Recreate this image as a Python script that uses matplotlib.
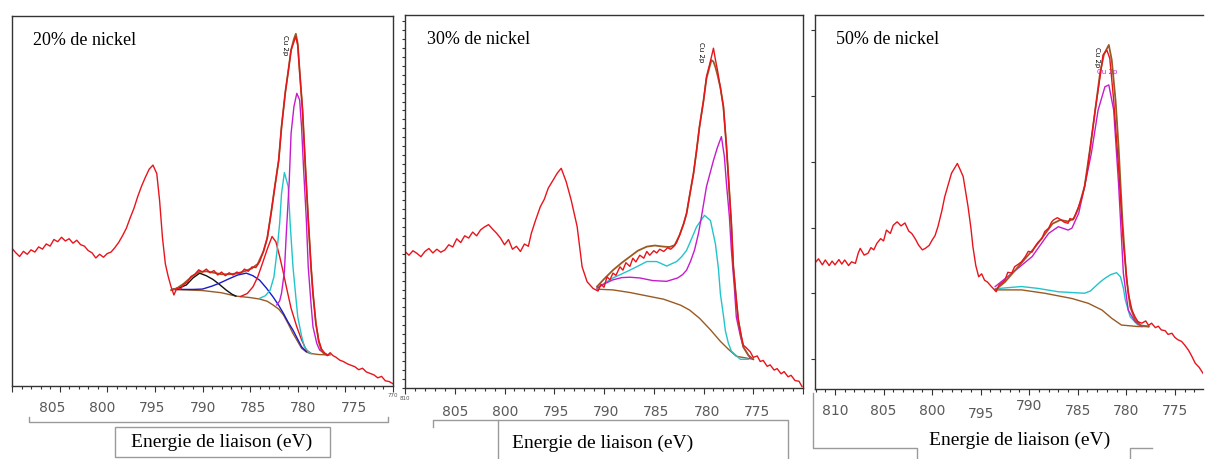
import matplotlib.pyplot as plt
from matplotlib.lines import Line2D
from matplotlib.patches import Rectangle
from matplotlib.ticker import MultipleLocator, FixedLocator

W, H = 1205, 459

RED = '#e8141c'
BROWN = '#9a5a22'
CYAN = '#22c4cc'
MAGENTA = '#c41ccc'
BLUE = '#1a1acc'
BLACK = '#111111'
GREY = '#9a9a9a'

titles = ["20% de nickel", "30% de nickel", "50% de nickel"]
xlabel = "Energie de liaison (eV)"
tick_values = [[805, 800, 795, 790, 785, 780, 775],
               [805, 800, 795, 790, 785, 780, 775],
               [810, 805, 800, 795, 790, 785, 780, 775]]

# ---------------- 20 % nickel ----------------
spec20_e = [810.0, 809.6, 809.2, 808.8, 808.4, 808.0, 807.6, 807.2, 806.8, 806.4, 806.0, 805.6, 805.2,
            804.8, 804.4, 804.0, 803.6, 803.2, 802.8, 802.4, 802.0, 801.6, 801.2, 800.8, 800.4, 800.0,
            799.6, 799.2, 798.8, 798.4, 798.0, 797.6, 797.2, 796.8, 796.4, 796.0, 795.6, 795.2, 794.8,
            794.5, 794.2, 793.9, 793.6, 793.3, 793.0, 792.7, 792.3, 792.0, 791.6, 791.2, 790.8, 790.4,
            790.0, 789.6, 789.2, 788.8, 788.4, 788.0, 787.6, 787.2, 786.8, 786.4, 786.0, 785.6, 785.2,
            784.8, 784.4, 784.0, 783.6, 783.2, 782.8, 782.4, 782.0, 781.7, 781.3, 781.0, 780.7, 780.4,
            780.2, 780.0, 779.8, 779.5, 779.2, 778.9, 778.6, 778.4, 778.1, 777.8, 777.5, 777.2, 776.9,
            776.6, 776.3, 776.0, 775.6, 775.2, 774.8, 774.4, 774.0, 773.6, 773.2, 772.8, 772.4, 772.0,
            771.6, 771.2, 770.8, 770.4, 770.0]
spec20_i = [37.2, 36.0, 35.0, 36.4, 35.6, 36.8, 36.2, 37.6, 37.0, 38.4, 37.8, 39.6, 39.0,
            40.2, 39.2, 39.8, 38.6, 39.4, 38.2, 37.8, 36.6, 36.0, 34.6, 35.6, 34.8, 35.8,
            36.2, 37.4, 38.8, 40.6, 42.6, 45.4, 48.0, 51.2, 54.0, 56.4, 58.6, 59.7, 57.4,
            50.0, 40.0, 33.0, 29.6, 26.8, 24.6, 26.4, 26.2, 27.4, 28.0, 29.6, 30.2, 31.4,
            30.8, 31.6, 30.6, 31.2, 30.0, 30.8, 29.8, 30.6, 30.0, 30.8, 30.4, 31.6, 31.0,
            32.2, 32.0, 33.6, 36.4, 40.0, 46.7, 54.0, 61.0, 70.1, 79.5, 85.0, 90.8, 93.0,
            94.4, 92.0, 85.0, 74.6, 59.3, 45.0, 32.0, 25.0, 17.0, 12.4, 10.0, 9.0, 8.2,
            9.0, 8.2, 7.8, 7.0, 6.6, 6.0, 5.6, 5.2, 4.4, 4.8, 3.8, 3.4, 3.0,
            2.2, 2.6, 1.4, 1.2, 0.6]
env20_e = [793.3, 792.7, 792.0, 791.2, 790.4, 789.6, 788.8, 788.0, 787.2, 786.4, 785.6, 784.8, 784.2,
           783.6, 783.2, 782.8, 782.4, 782.0, 781.7, 781.3, 781.0, 780.7, 780.4, 780.2, 780.0, 779.8,
           779.5, 779.2, 778.9, 778.6, 778.4, 778.1, 777.8, 777.5, 777.2, 776.8]
env20_i = [25.9, 26.4, 27.6, 29.4, 30.8, 31.0, 30.6, 30.2, 30.2, 30.4, 31.0, 31.8, 33.0,
           36.4, 40.0, 46.7, 54.0, 61.0, 70.1, 79.5, 85.0, 90.8, 93.8, 95.2, 92.5, 85.0,
           74.6, 59.3, 45.0, 32.0, 25.0, 17.0, 12.0, 9.5, 8.6, 8.4]
bg20_e = [793.1, 792.0, 790.0, 788.0, 786.5, 785.0, 784.0, 783.2, 782.6, 782.0, 781.5, 781.0,
          780.5, 780.0, 779.6, 779.1, 778.7, 777.8, 776.6]
bg20_i = [26.1, 26.0, 25.8, 25.2, 24.3, 23.9, 23.5, 22.9, 21.9, 20.8, 19.2, 16.8,
          14.2, 12.0, 10.2, 9.2, 8.8, 8.5, 8.4]
black20_e = [793.1, 792.4, 791.7, 791.0, 790.3, 789.6, 788.9, 788.2, 787.5, 786.9, 786.5]
black20_i = [26.1, 26.6, 27.3, 29.2, 30.5, 29.8, 28.8, 27.4, 25.9, 24.8, 24.3]
blue20_e = [793.1, 792.0, 791.0, 790.0, 789.0, 788.2, 787.2, 786.3, 785.4, 784.7, 784.0, 783.3,
            782.6, 782.0, 781.5, 781.0, 780.5, 780.0, 779.6, 779.1]
blue20_i = [26.1, 26.1, 26.1, 26.2, 27.0, 27.8, 29.0, 30.0, 30.5, 29.8, 28.6, 26.5,
            24.1, 21.8, 19.6, 17.2, 15.1, 12.6, 10.6, 9.3]
redc20_e = [786.0, 785.3, 784.7, 784.2, 783.7, 783.2, 782.7, 782.3, 781.9, 781.5, 781.2, 780.7,
            780.1, 779.6, 779.1, 778.6]
redc20_i = [24.2, 25.0, 26.8, 29.5, 33.2, 37.0, 40.4, 39.0, 35.0, 30.5, 26.8, 21.0,
            16.0, 12.5, 9.7, 8.8]
cyan20_e = [784.0, 783.4, 782.9, 782.5, 782.2, 781.9, 781.7, 781.4, 781.0, 780.8, 780.5, 780.2,
            780.0, 779.6, 779.3, 778.9, 778.6]
cyan20_i = [23.7, 24.4, 25.9, 29.5, 35.9, 44.0, 52.1, 57.7, 53.9, 44.0, 32.2, 24.0,
            18.7, 13.5, 10.6, 9.3, 8.8]
mag20_e = [782.2, 781.9, 781.7, 781.4, 781.2, 780.9, 780.7, 780.4, 780.1, 779.8, 779.6, 779.4,
           779.1, 778.9, 778.6, 778.4, 778.0, 777.7, 777.0]
mag20_i = [21.9, 23.0, 25.1, 31.0, 41.3, 55.0, 68.3, 75.5, 79.1, 77.3, 70.0, 59.3,
           45.0, 32.2, 22.0, 16.0, 11.5, 9.7, 8.6]

# ---------------- 30 % nickel ----------------
spec30_e = [810.0, 809.6, 809.2, 808.8, 808.4, 808.0, 807.6, 807.2, 806.8, 806.4, 806.0, 805.6, 805.2,
            804.8, 804.4, 804.0, 803.6, 803.2, 802.8, 802.4, 802.0, 801.6, 801.2, 800.8, 800.4, 800.0,
            799.6, 799.2, 798.8, 798.4, 798.0, 797.6, 797.3, 796.9, 796.4, 796.0, 795.6, 795.1, 794.7,
            794.3, 793.8, 793.3, 792.7, 792.2, 791.7, 791.1, 790.6, 790.3, 790.0, 789.7, 789.4, 789.1,
            788.8, 788.4, 788.1, 787.8, 787.4, 787.1, 786.8, 786.4, 786.0, 785.7, 785.4, 785.0, 784.7,
            784.4, 784.0, 783.6, 783.3, 783.0, 782.7, 782.4, 782.0, 781.7, 781.4, 781.0, 780.7, 780.4,
            780.0, 779.7, 779.4, 779.2, 779.0, 778.8, 778.6, 778.3, 778.0, 777.7, 777.5, 777.2, 777.0,
            776.7, 776.5, 776.2, 776.0, 775.7, 775.3, 775.0, 774.6, 774.3, 774.0, 773.6, 773.3, 772.9,
            772.6, 772.2, 771.9, 771.5, 771.2, 770.8, 770.4, 770.1]
spec30_i = [36.6, 35.6, 36.8, 36.1, 35.2, 36.6, 37.4, 36.2, 37.2, 36.4, 37.0, 38.4, 37.8,
            40.0, 39.0, 40.8, 40.2, 41.8, 40.8, 42.4, 43.2, 43.8, 42.6, 41.5, 40.2, 38.4,
            39.8, 37.2, 38.0, 36.6, 38.6, 38.0, 41.5, 44.8, 48.6, 50.6, 53.6, 55.8, 57.6,
            58.9, 55.3, 50.4, 43.3, 32.5, 28.5, 26.7, 26.0, 27.8, 27.0, 29.8, 29.0, 30.8,
            30.2, 32.5, 31.6, 33.6, 32.6, 34.8, 33.8, 35.6, 34.8, 36.6, 35.6, 36.8, 36.2,
            37.2, 36.6, 37.6, 37.2, 37.9, 39.0, 41.0, 44.0, 46.8, 51.5, 57.6, 63.6, 70.1,
            77.0, 83.5, 86.6, 88.8, 91.1, 88.0, 85.3, 80.5, 75.4, 65.0, 56.7, 44.0, 32.5,
            23.5, 18.2, 14.0, 11.5, 10.8, 9.7, 8.2, 8.6, 7.1, 7.4, 5.8, 6.2, 4.8,
            5.2, 3.8, 4.4, 3.0, 3.4, 2.0, 1.8, 0.4]
env30_e = [790.7, 790.0, 789.1, 788.2, 787.4, 786.6, 785.7, 784.9, 784.0, 783.4, 782.9, 782.4, 782.0,
           781.7, 781.4, 781.0, 780.7, 780.4, 780.0, 779.7, 779.4, 779.2, 779.0, 778.8, 778.6, 778.3,
           778.0, 777.7, 777.5, 777.2, 777.0, 776.7, 776.5, 776.2, 776.0, 775.5, 775.0]
env30_i = [27.2, 29.2, 31.6, 33.6, 35.2, 36.8, 37.9, 38.2, 37.9, 37.8, 38.3, 41.0, 44.0,
           46.8, 51.5, 57.6, 63.6, 70.1, 77.0, 83.0, 86.0, 87.9, 87.5, 86.0, 84.0, 80.5,
           75.4, 65.0, 56.7, 44.0, 32.5, 23.5, 18.2, 13.5, 11.0, 8.8, 7.7]
bg30_e = [790.7, 789.1, 787.4, 785.7, 784.0, 782.3, 781.4, 780.4, 779.3, 778.3, 777.5, 776.7, 775.0]
bg30_i = [26.5, 26.3, 25.6, 24.7, 23.8, 22.2, 20.9, 18.7, 15.6, 12.5, 10.4, 8.5, 7.7]
cyan30_e = [790.7, 789.9, 789.1, 788.2, 787.4, 786.5, 785.7, 784.7, 783.7, 782.7, 782.2, 781.7, 781.2,
            780.7, 779.9, 779.3, 778.8, 778.5, 778.3, 778.0, 777.8, 777.5, 777.2, 776.3, 775.5]
cyan30_i = [26.8, 28.2, 29.5, 30.6, 31.6, 32.8, 33.9, 33.9, 32.7, 33.9, 35.2, 36.9, 40.0,
            43.2, 46.3, 44.9, 38.6, 32.0, 25.2, 19.5, 15.3, 12.0, 9.9, 7.7, 7.7]
mag30_e = [790.7, 789.9, 789.1, 788.2, 787.4, 786.4, 785.1, 783.7, 782.6, 782.1, 781.7, 781.3, 780.9,
           780.5, 780.2, 779.7, 779.0, 778.6, 778.2, 777.9, 777.7, 777.4, 777.2, 776.9, 776.7, 776.3,
           776.0, 775.3]
mag30_i = [26.8, 28.0, 29.0, 29.6, 29.7, 29.5, 28.8, 28.6, 29.5, 30.4, 31.6, 34.0, 37.0,
           41.5, 46.0, 54.0, 61.0, 64.5, 67.4, 62.0, 55.0, 46.0, 37.0, 27.0, 19.0, 14.0,
           11.0, 8.0]

# ---------------- 50 % nickel ----------------
spec50_e = [812.1, 811.7, 811.3, 811.0, 810.6, 810.3, 810.0, 809.6, 809.3, 809.0, 808.6, 808.3, 807.9,
            807.6, 807.4, 807.0, 806.6, 806.3, 806.0, 805.7, 805.3, 805.0, 804.7, 804.3, 804.0, 803.6,
            803.2, 802.8, 802.4, 802.1, 801.7, 801.4, 801.0, 800.7, 800.3, 800.0, 799.7, 799.4, 799.0,
            798.7, 798.3, 798.0, 797.7, 797.4, 797.1, 796.8, 796.5, 796.3, 796.0, 795.8, 795.5, 795.2,
            794.9, 794.6, 794.3, 793.9, 793.6, 793.4, 793.1, 792.8, 792.5, 792.2, 791.8, 791.5, 791.1,
            790.8, 790.4, 790.1, 789.7, 789.4, 789.1, 788.7, 788.4, 788.0, 787.7, 787.5, 787.1, 786.7,
            786.4, 786.0, 785.8, 785.5, 785.2, 784.9, 784.6, 784.3, 784.0, 783.7, 783.2, 782.7, 782.4,
            782.0, 781.7, 781.3, 780.8, 780.3, 779.8, 779.4, 779.1, 778.8, 778.4, 778.0, 777.7, 777.4,
            777.0, 776.7, 776.4, 776.0, 775.7, 775.3, 775.0, 774.7, 774.3, 774.0, 773.6, 773.3, 772.9,
            772.5, 772.1]
spec50_i = [33.6, 34.8, 33.2, 34.5, 33.0, 34.2, 33.2, 34.6, 33.4, 34.5, 33.0, 34.0, 33.6,
            36.4, 37.6, 35.8, 36.3, 37.8, 37.2, 38.9, 40.2, 39.6, 42.5, 41.6, 43.8, 44.7,
            43.6, 44.4, 42.2, 41.6, 40.0, 38.5, 37.2, 37.6, 38.4, 39.8, 41.0, 43.4, 47.6,
            51.4, 55.0, 57.7, 59.0, 60.3, 58.6, 56.8, 52.0, 48.8, 43.0, 38.1, 33.0, 30.0,
            30.8, 29.1, 28.6, 27.4, 26.6, 26.0, 27.8, 28.4, 29.1, 31.2, 31.0, 32.7, 33.4,
            34.0, 35.4, 36.8, 36.6, 38.1, 39.2, 40.2, 42.1, 43.0, 44.6, 45.2, 45.8, 45.2,
            44.6, 44.3, 45.6, 45.2, 46.8, 48.8, 51.0, 54.1, 58.6, 64.8, 74.6, 83.5, 89.3,
            90.6, 88.4, 77.2, 59.4, 38.9, 25.6, 21.0, 19.3, 18.0, 17.6, 18.2, 17.0, 17.6,
            16.4, 16.8, 15.8, 15.6, 14.6, 14.9, 13.8, 13.2, 12.7, 11.8, 10.4, 9.0, 6.9,
            5.8, 4.2]
env50_e = [793.5, 792.5, 791.5, 790.5, 789.5, 788.5, 787.6, 786.8, 786.0, 785.4, 784.9, 784.3, 783.7,
           783.2, 782.7, 782.3, 781.8, 781.5, 781.1, 780.8, 780.4, 780.0, 779.6, 779.1, 778.5, 777.7]
env50_i = [26.5, 28.6, 31.6, 34.6, 37.6, 41.0, 44.2, 45.2, 44.8, 45.6, 48.6, 54.1, 64.8,
           74.6, 84.5, 89.5, 92.0, 88.0, 77.0, 65.0, 45.0, 30.0, 22.0, 18.5, 17.0, 16.7]
bg50_e = [793.5, 790.8, 788.4, 785.6, 783.9, 782.5, 781.5, 780.5, 778.8, 777.7]
bg50_i = [26.5, 26.5, 25.6, 24.2, 22.9, 21.1, 18.9, 17.1, 16.7, 16.7]
cyan50_e = [793.5, 790.8, 789.1, 787.0, 784.3, 783.7, 783.2, 782.7, 782.2, 781.6, 781.0, 780.6,
            780.3, 780.1, 779.6, 778.8, 777.7]
cyan50_i = [26.8, 27.4, 26.9, 26.0, 25.6, 26.2, 27.4, 28.6, 29.6, 30.6, 31.1, 30.0,
            27.0, 23.8, 19.3, 17.1, 16.7]
mag50_e = [793.5, 791.8, 789.7, 788.0, 787.0, 786.0, 785.6, 784.9, 784.3, 783.6, 782.9, 782.2,
           781.8, 781.3, 780.8, 780.3, 779.8, 779.1, 778.4]
mag50_i = [27.4, 30.9, 35.4, 41.6, 43.4, 42.5, 43.0, 47.0, 54.1, 63.0, 74.6, 80.8,
           81.3, 74.6, 55.0, 30.9, 21.1, 18.0, 16.7]


def add_axes_px(fig, left, top, right, bottom):
    return fig.add_axes([left / W, 1 - bottom / H, (right - left) / W, (bottom - top) / H])


def fig_line(fig, xs, ys, color=GREY, lw=1.0):
    fig.add_artist(Line2D([x / W for x in xs], [1 - y / H for y in ys],
                          transform=fig.transFigure, color=color, lw=lw))


def style_axes(ax, xlim):
    ax.set_xlim(*xlim)
    ax.set_ylim(0, 100)
    ax.xaxis.set_major_locator(MultipleLocator(5))
    ax.xaxis.set_minor_locator(MultipleLocator(1))
    ax.tick_params(axis='x', which='major', direction='out', length=4, width=0.8,
                   color='#333333', labelbottom=False, top=False)
    ax.tick_params(axis='x', which='minor', direction='out', length=2.5, width=0.8,
                   color='#333333', top=False)
    ax.tick_params(axis='y', left=False, labelleft=False, right=False)
    for sp in ax.spines.values():
        sp.set_color('#333333')
        sp.set_linewidth(1.0)


def draw_panel(ax, title, spec, env, bg, comps, xlim):
    style_axes(ax, xlim)
    ax.plot(bg[0], bg[1], color=BROWN, lw=1.0)
    for e, i, c in comps:
        ax.plot(e, i, color=c, lw=1.0)
    ax.plot(env[0], env[1], color=BROWN, lw=1.3)
    ax.plot(spec[0], spec[1], color=RED, lw=1.0)
    ax.text(0.055, 0.935, title, transform=ax.transAxes, fontsize=13,
            family='Liberation Serif', va='center', ha='left')


def tick_labels(fig, values, x0, v0, step, y, dy=None):
    for k, v in enumerate(values):
        yy = y + (dy[k] if dy else 0)
        fig.text((x0 + (v0 - v) * step) / W, 1 - yy / H, str(v), fontsize=10,
                 color='#5a5a5a', ha='center', va='center', family='DejaVu Sans')


fig = plt.figure(figsize=(W / 100, H / 100), dpi=100)

ax1 = add_axes_px(fig, 12, 16, 393, 386)
draw_panel(ax1, titles[0], (spec20_e, spec20_i), (env20_e, env20_i), (bg20_e, bg20_i),
           [(black20_e, black20_i, BLACK), (blue20_e, blue20_i, BLUE), (redc20_e, redc20_i, RED),
            (cyan20_e, cyan20_i, CYAN), (mag20_e, mag20_i, MAGENTA)], (810, 770))
ax1.text(781.3, 92, "Cu 2p", rotation=-90, fontsize=5, ha='center', va='center')

ax2 = add_axes_px(fig, 405, 15, 803, 388)
draw_panel(ax2, titles[1], (spec30_e, spec30_i), (env30_e, env30_i), (bg30_e, bg30_i),
           [(cyan30_e, cyan30_i, CYAN), (mag30_e, mag30_i, MAGENTA)], (810, 770))
ax2.yaxis.set_major_locator(MultipleLocator(2.4))
ax2.tick_params(axis='y', left=True, direction='out', length=2, width=0.8, color='#333333')
ax2.text(780.3, 90, "Cu 2p", rotation=-90, fontsize=5, ha='center', va='center')

ax3 = add_axes_px(fig, 815, 15, 1203, 389)
draw_panel(ax3, titles[2], (spec50_e, spec50_i), (env50_e, env50_i), (bg50_e, bg50_i),
           [(cyan50_e, cyan50_i, CYAN), (mag50_e, mag50_i, MAGENTA)], (812.06, 772.1))
ax3.yaxis.set_major_locator(FixedLocator([8, 25.7, 43, 60.7, 78.3, 96]))
ax3.tick_params(axis='y', left=True, direction='out', length=3, width=0.8, color='#333333')
ax3.spines['right'].set_visible(False)
ax3.text(783.0, 88.8, "Cu 2p", rotation=-90, fontsize=5, ha='center', va='center')
ax3.text(782.0, 84.8, "Cu 2p", fontsize=5, color=MAGENTA, ha='center', va='center')

# tick labels (drawn below the frames, as in the original composite)
tick_labels(fig, tick_values[0], 52, 805, 10.05, 408)
tick_labels(fig, tick_values[1], 455, 805, 10.07, 412)
tick_labels(fig, tick_values[2], 835, 810, 9.71, 411, dy=[0, 0, 0, 3, -5, 0, 0, 0])
fig.text(393 / W, 1 - 397 / H, "770", fontsize=4, color='#555555', ha='center')
fig.text(405 / W, 1 - 400 / H, "810", fontsize=4, color='#555555', ha='center')

# brackets and label boxes
fig_line(fig, [29, 29, 388, 388], [417, 422, 422, 417])
fig.add_artist(Rectangle((115 / W, 1 - 457 / H), 215 / W, 30 / H, transform=fig.transFigure,
                         fill=False, edgecolor=GREY, lw=1.0))
fig_line(fig, [433, 433, 788, 788], [427, 420, 420, 459])
fig_line(fig, [498, 498], [420, 459])
fig_line(fig, [813, 813, 917, 917], [393, 448, 448, 459])
fig_line(fig, [1130, 1130, 1152], [459, 448, 448])

fig.text(222 / W, 1 - 442 / H, xlabel, fontsize=14, family='Liberation Serif', ha='center', va='center')
fig.text(603 / W, 1 - 443 / H, xlabel, fontsize=14, family='Liberation Serif', ha='center', va='center')
fig.text(1020 / W, 1 - 440 / H, xlabel, fontsize=14, family='Liberation Serif', ha='center', va='center')

fig.savefig("out.png", dpi=100)
